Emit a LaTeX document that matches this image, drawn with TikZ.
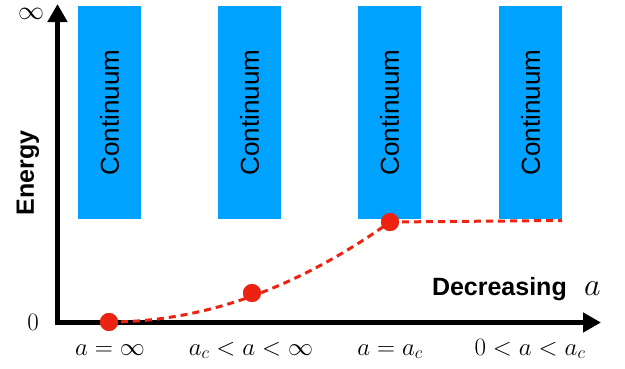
\documentclass[tikz,border=0pt]{standalone}
\usepackage{fix-cm}
\usepackage{fontspec}
\newfontfamily\hv{Liberation Sans}
\usetikzlibrary{arrows.meta}
\definecolor{contblue}{RGB}{0,162,255}
\definecolor{dotred}{RGB}{236,34,18}
\begin{document}
\begin{tikzpicture}[x=1pt,y=1pt,
  contbox/.style={fill=contblue,draw=none,minimum width=63pt,minimum height=213pt,inner sep=0pt},
  conttext/.style={rotate=90,font=\hv\fontsize{26}{26}\selectfont},
  axis/.style={line width=4.5pt,-{Triangle[length=18pt,width=19pt]}},
  dot/.style={circle,fill=dotred,minimum size=18pt,inner sep=0pt},
  curve/.style={dotred,line width=3pt,dash pattern=on 7pt off 5pt},
  mlabel/.style={font=\fontsize{25}{25}\selectfont,anchor=base}]
\useasboundingbox (0,0) rectangle (625,368);
% continuum boxes
\foreach \x/\n in {109.5/b1,249.5/b2,389.5/b3,530.5/b4}{
  \node[contbox] (\n) at (\x,255.5) {};
  \node[conttext] at (\n.center) {Continuum};
}
% axes
\coordinate (ytop) at (57.5,364);
\coordinate (xend) at (601,45.5);
\draw[axis] (55.25,45.5) -- (xend);
\draw[axis] (57.5,43.25) -- (ytop);
% axis labels
\node[inner sep=0pt,font=\fontsize{26}{26}\selectfont] (inf) at (31,354) {$\infty$};
\node[font=\fontsize{25}{25}\selectfont] (zero) at (33,46) {$0$};
\node[rotate=90,font=\hv\bfseries\fontsize{25}{25}\selectfont] (energy) at (28,195) {Energy};
\node[anchor=base east,inner sep=0pt,font=\hv\bfseries\fontsize{25}{25}\selectfont] (dec) at (567,73) {Decreasing};
\node[anchor=base west,inner sep=0pt,font=\fontsize{32}{32}\selectfont] (deca) at (584,73) {$a$};
% curve
\node[dot] (d1) at (109,46) {};
\node[dot] (d2) at (252,75) {};
\node[dot] (d3) at (390,146) {};
\coordinate (cend) at (562,147.5);
\draw[curve] (d1.center) .. controls (202.7,46) and (296.3,79.3) .. (d3.center);
\draw[curve] (d3.center) -- (cend);
\node[dot] at (d1) {};
\node[dot] at (d2) {};
\node[dot] at (d3) {};
% bottom labels
\node[mlabel] (l1) at (110,13) {$a=\infty$};
\node[mlabel] (l2) at (251,13) {$a_c<a<\infty$};
\node[mlabel] (l3) at (390,13) {$a=a_c$};
\node[mlabel] (l4) at (530,13) {$0<a<a_c$};
\end{tikzpicture}
\end{document}
